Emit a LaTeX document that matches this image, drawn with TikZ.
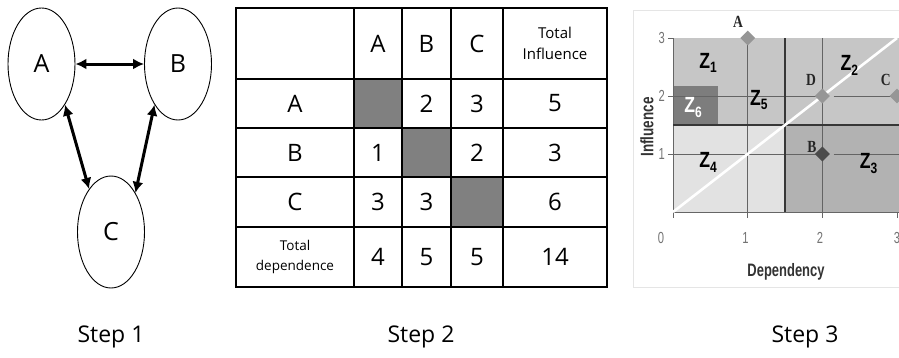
\documentclass[tikz,border=0pt]{standalone}
\usepackage{graphicx}
\usepackage{fontspec}
\setmainfont{Open Sans}
\newfontfamily\chartfont{Liberation Sans}
\newfontfamily\chartserif{Liberation Serif}
\usetikzlibrary{shapes.geometric,arrows.meta}
\definecolor{cellgray}{RGB}{128,128,128}
\definecolor{zfour}{RGB}{226,226,226}
\definecolor{zup}{RGB}{198,198,198}
\definecolor{zthree}{RGB}{178,178,178}
\definecolor{zsix}{RGB}{125,125,125}
\definecolor{thinln}{RGB}{100,100,100}
\definecolor{thickln}{RGB}{55,55,55}
\definecolor{dmlight}{RGB}{150,150,150}
\definecolor{dmdark}{RGB}{75,75,75}
\newcommand\zl[1]{\scalebox{0.8}[1]{Z\raisebox{-0.4ex}{\fontsize{15}{15}\selectfont #1}}}
\begin{document}
\begin{tikzpicture}[x=1pt,y=-1pt,
  bub/.style={draw,ellipse,line width=0.9pt,minimum width=67pt,minimum height=112pt,inner sep=0pt,font=\fontsize{25}{25}\selectfont},
  dbl/.style={line width=3pt,{Latex[length=11pt,width=11pt]}-{Latex[length=11pt,width=11pt]}},
  steplabel/.style={font=\fontsize{23}{23}\selectfont},
  cell/.style={font=\fontsize{24}{24}\selectfont},
  zone/.style={font=\chartfont\bfseries\fontsize{22}{22}\selectfont},
  ptlabel/.style={font=\chartserif\bfseries\fontsize{17}{17}\selectfont,text=black!85},
  ticklabel/.style={font=\chartfont\fontsize{16}{16}\selectfont,text=black!55},
  axtitle/.style={font=\chartfont\bfseries\fontsize{18}{18}\selectfont,text=black!80},
  dm/.style={diamond,minimum size=15pt,inner sep=0pt}
]
\useasboundingbox (0,0) rectangle (899,357);

% ---------- Step 1 ----------
\node[bub] (A) at (41.5,64) {A};
\node[bub] (B) at (178,64) {B};
\node[bub] (C) at (111,232) {C};
\draw[dbl] (A.east) -- (B.west);
\draw[dbl] (A.-60) -- (C.117);
\draw[dbl] (B.240) -- (C.58);
\node[steplabel] (s1) at (111,337) {Step 1};

% ---------- Step 2 ----------
\fill[cellgray] (354,79) rectangle (402,128);
\fill[cellgray] (402,128) rectangle (451,177);
\fill[cellgray] (451,177) rectangle (503,227);
\draw[line width=1.2pt] (236,8) rectangle (607,287);
\foreach \xx in {354,402,451,503} \draw[line width=1.2pt] (\xx,8) -- (\xx,287);
\foreach \yy in {79,128,177,227} \draw[line width=1.2pt] (236,\yy) -- (607,\yy);

\node[cell] (hA) at (378,43.5) {A};
\node[cell] (hB) at (426.5,43.5) {B};
\node[cell] (hC) at (477,43.5) {C};
\node[align=center,font=\fontsize{15}{21}\selectfont] (hT) at (555,43.5) {Total\\Influence};
\node[cell] (rA) at (295,103.5) {A};
\node[cell] (rB) at (295,152.5) {B};
\node[cell] (rC) at (295,202) {C};
\node[align=center,font=\fontsize{13.5}{20}\selectfont] (rT) at (295,257) {Total\\dependence};
\node[cell] (aB) at (426.5,103.5) {2};
\node[cell] (aC) at (477,103.5) {3};
\node[cell] (aT) at (555,103.5) {5};
\node[cell] (bA) at (378,152.5) {1};
\node[cell] (bC) at (477,152.5) {2};
\node[cell] (bT) at (555,152.5) {3};
\node[cell] (cA) at (378,202) {3};
\node[cell] (cB) at (426.5,202) {3};
\node[cell] (cT) at (555,202) {6};
\node[cell] (tA) at (378,257) {4};
\node[cell] (tB) at (426.5,257) {5};
\node[cell] (tC) at (477,257) {5};
\node[cell] (tT) at (555,257) {14};
\node[steplabel] (s2) at (421,337) {Step 2};

% ---------- Step 3 ----------
\draw[black!10,line width=1pt] (633,10) rectangle (905,287);
\begin{scope}[shift={(673,212)},x=74.67pt,y=58pt]
  \fill[zfour] (0,0) rectangle (1.5,1.5);
  \fill[zthree] (1.5,0) rectangle (3.05,1.5);
  \fill[zup] (0,1.5) rectangle (3.05,3);
  \fill[zsix] (0,1.5) rectangle (0.6,2.17);
  % thin grid lines
  \draw[thinln,line width=0.9pt] (1,0) -- (1,3) (2,0) -- (2,3)
     (0,1) -- (2,1) (2.15,1) -- (3.05,1)
     (0,2) -- (2,2) (2.15,2) -- (3.05,2);
  % axes and ticks
  \draw[black!60,line width=0.9pt] (0,3) -- (0,0) -- (3.05,0);
  \foreach \t in {1,2,3} \draw[black!60,line width=0.8pt] (-0.07,\t) -- (0,\t);
  \foreach \t in {0,1,2,3} \draw[black!60,line width=0.8pt] (\t,0) -- (\t,-0.1);
  % thick separators
  \draw[thickln,line width=2.6pt] (1.5,0) -- (1.5,3);
  \draw[thickln,line width=2.6pt] (0,1.5) -- (3.05,1.5);
  % diagonal
  \draw[white,line width=2.6pt] (0,0) -- (3,3);
  % points
  \node[dm,fill=dmlight] (pA) at (1,3) {};
  \node[dm,fill=dmlight] (pD) at (2,2) {};
  \node[dm,fill=dmlight] (pC) at (3,2) {};
  \node[dm,fill=dmdark] (pB) at (2,1) {};
  \node[ptlabel] (lA) at (0.87,3.27) {\scalebox{0.8}[1]{A}};
  \node[ptlabel] (lD) at (1.85,2.28) {\scalebox{0.8}[1]{D}};
  \node[ptlabel] (lC) at (2.85,2.28) {\scalebox{0.8}[1]{C}};
  \node[ptlabel] (lB) at (1.86,1.12) {\scalebox{0.8}[1]{B}};
  % zones
  \node[zone] (z1) at (0.47,2.57) {\zl{1}};
  \node[zone] (z2) at (2.36,2.53) {\zl{2}};
  \node[zone] (z5) at (1.15,1.93) {\zl{5}};
  \node[zone,text=white] (z6) at (0.27,1.8) {\zl{6}};
  \node[zone] (z4) at (0.47,0.86) {\zl{4}};
  \node[zone] (z3) at (2.62,0.84) {\zl{3}};
  % tick labels
  \node[ticklabel] (y3) at (-0.15,3) {\scalebox{0.7}[1]{3}};
  \node[ticklabel] (y2) at (-0.15,2) {\scalebox{0.7}[1]{2}};
  \node[ticklabel] (y1) at (-0.15,1) {\scalebox{0.7}[1]{1}};
  \node[ticklabel] (x0) at (-0.16,-0.45) {\scalebox{0.7}[1]{0}};
  \node[ticklabel] (x1) at (0.97,-0.45) {\scalebox{0.7}[1]{1}};
  \node[ticklabel] (x2) at (1.97,-0.45) {\scalebox{0.7}[1]{2}};
  \node[ticklabel] (x3) at (3.0,-0.45) {\scalebox{0.7}[1]{3}};
\end{scope}
\node[axtitle] (dep) at (786,272) {\scalebox{0.72}[1]{Dependency}};
\node[axtitle,rotate=90] (inf) at (647,127) {\scalebox{0.75}[1]{Influence}};
\node[steplabel] (s3) at (805,337) {Step 3};
\end{tikzpicture}
\end{document}
